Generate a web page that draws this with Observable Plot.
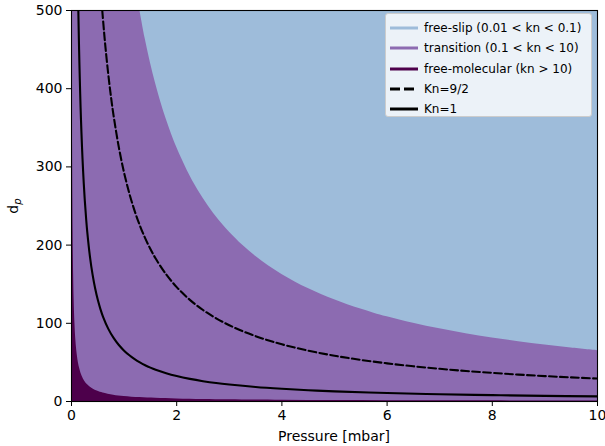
<!DOCTYPE html>
<html><head><meta charset="utf-8">
<script src="https://cdn.jsdelivr.net/npm/d3@7"></script>
<script src="https://cdn.jsdelivr.net/npm/@observablehq/plot@0.6"></script>
<style>
body{margin:0;background:#fff}
#wrap{position:relative;width:605px;height:446px;font-family:"DejaVu Sans",sans-serif}
#legend{position:absolute;left:385px;top:13px;width:207px;height:104px;background:rgba(255,255,255,0.8);border:1px solid #cccccc;border-radius:3px;box-sizing:border-box;font-size:12px;color:#000}
#legend .row{position:absolute;left:0;height:20px;display:flex;align-items:center;white-space:nowrap}
#legend svg{width:38px;height:20px;flex:none}
</style>
</head><body><div id="wrap"></div>
<script>
// Axis domains and ticks
const pressureDomain = [0, 10];
const dpDomain = [0, 500];
const xTicks = [0, 2, 4, 6, 8, 10];
const yTicks = [0, 100, 200, 300, 400, 500];

// Boundary kn = 10 (top of free-molecular region)
const molecularP = [0.013, 0.015, 0.02, 0.025, 0.03, 0.04, 0.05, 0.065, 0.08, 0.1, 0.13, 0.16, 0.2, 0.25, 0.3, 0.4, 0.5, 0.6, 0.8, 1, 1.3, 1.6, 2, 2.5, 3, 4, 5, 6, 7, 8, 9, 10];
const molecularD = [500, 433, 325, 260, 217, 163, 130, 100, 81, 65, 50, 41, 32.5, 26, 21.7, 16.3, 13, 10.8, 8.1, 6.5, 5, 4.1, 3.3, 2.6, 2.2, 1.6, 1.3, 1.1, 0.93, 0.81, 0.72, 0.65];

// Boundary kn = 0.1 (bottom of free-slip region)
const slipP = [1.3, 1.4, 1.5, 1.6, 1.7, 1.8, 1.9, 2, 2.2, 2.4, 2.6, 2.8, 3, 3.25, 3.5, 3.75, 4, 4.25, 4.5, 4.75, 5, 5.25, 5.5, 5.75, 6, 6.5, 7, 7.5, 8, 8.5, 9, 9.5, 10];
const slipD = [500, 464.3, 433.3, 406.3, 382.4, 361.1, 342.1, 325, 295.5, 270.8, 250, 232.1, 216.7, 200, 185.7, 173.3, 162.5, 152.9, 144.4, 136.8, 130, 123.8, 118.2, 113, 108.3, 100, 92.9, 86.7, 81.3, 76.5, 72.2, 68.4, 65];

// Kn = 1 curve (solid)
const kn1P = [0.13, 0.14, 0.15, 0.165, 0.18, 0.2, 0.22, 0.25, 0.28, 0.3, 0.35, 0.4, 0.45, 0.5, 0.55, 0.6, 0.7, 0.8, 0.9, 1, 1.1, 1.2, 1.3, 1.4, 1.5, 1.6, 1.8, 2, 2.25, 2.5, 2.75, 3, 3.5, 4, 4.5, 5, 6, 7, 8, 9, 10];
const kn1D = [500, 464.3, 433.3, 393.9, 361.1, 325, 295.5, 260, 232.1, 216.7, 185.7, 162.5, 144.4, 130, 118.2, 108.3, 92.9, 81.3, 72.2, 65, 59.1, 54.2, 50, 46.4, 43.3, 40.6, 36.1, 32.5, 28.9, 26, 23.6, 21.7, 18.6, 16.3, 14.4, 13, 10.8, 9.3, 8.1, 7.2, 6.5];

// Kn = 9/2 curve (dashed)
const kn45P = [0.585, 0.62, 0.65, 0.7, 0.75, 0.8, 0.9, 1, 1.1, 1.2, 1.3, 1.4, 1.5, 1.6, 1.8, 2, 2.25, 2.5, 2.75, 3, 3.25, 3.5, 3.75, 4, 4.5, 5, 5.5, 6, 6.5, 7, 7.5, 8, 8.5, 9, 9.5, 10];
const kn45D = [500, 471.8, 450, 417.9, 390, 365.6, 325, 292.5, 265.9, 243.8, 225, 208.9, 195, 182.8, 162.5, 146.3, 130, 117, 106.4, 97.5, 90, 83.6, 78, 73.1, 65, 58.5, 53.2, 48.8, 45, 41.8, 39, 36.6, 34.4, 32.5, 30.8, 29.3];

// Legend
const legendLabels = ["free-slip (0.01 < kn < 0.1)", "transition (0.1 < kn < 10)", "free-molecular (kn > 10)", "Kn=9/2", "Kn=1"];
const legendColors = ["#9ebcda", "#8c6bb1", "#4d004b", "#000000", "#000000"];
const legendDash = [null, null, null, "10,4", null];

const colSlip = "#9ebcda", colTrans = "#8c6bb1", colMol = "#4d004b";

const zip = (xs, ys) => xs.map((x, i) => ({x, y: ys[i]}));
const molecular = zip(molecularP, molecularD);
const slip = zip(slipP, slipD);
const kn1 = zip(kn1P, kn1D);
const kn45 = zip(kn45P, kn45D);
const base = pressureDomain.map(x => ({x}));

const chart = Plot.plot({
  width: 605, height: 446,
  marginLeft: 71, marginRight: 8, marginTop: 10, marginBottom: 45,
  style: {fontFamily: "DejaVu Sans, sans-serif", fontSize: "14px", color: "#000", background: "#fff"},
  x: {domain: pressureDomain, ticks: xTicks, tickSize: 5, tickPadding: 4, label: null},
  y: {domain: dpDomain, ticks: yTicks, tickSize: 5, tickPadding: 4, label: null},
  marks: [
    Plot.areaY(base, {x: "x", y1: dpDomain[0], y2: dpDomain[1], fill: colTrans}),
    Plot.areaY(slip, {x: "x", y1: "y", y2: dpDomain[1], fill: colSlip, curve: "catmull-rom", clip: true}),
    Plot.areaY(molecular, {x: "x", y1: dpDomain[0], y2: "y", fill: colMol, curve: "catmull-rom", clip: true}),
    Plot.line(kn45, {x: "x", y: "y", stroke: "#000", strokeWidth: 2.1, strokeDasharray: "7.7,3.3", curve: "catmull-rom", clip: true}),
    Plot.line(kn1, {x: "x", y: "y", stroke: "#000", strokeWidth: 2.1, curve: "catmull-rom", clip: true}),
    Plot.frame({stroke: "#000", strokeWidth: 1.1}),
    Plot.axisX({ticks: xTicks, tickSize: 5, tickPadding: 4, fontSize: 14, label: null}),
    Plot.axisY({ticks: yTicks, tickSize: 5, tickPadding: 4, fontSize: 14, label: null})
  ]
});

const wrap = document.getElementById("wrap");
wrap.appendChild(chart);

const svg = d3.select(chart);
// x label
svg.append("text")
  .attr("x", 71 + (605 - 71 - 8) / 2).attr("y", 441)
  .attr("text-anchor", "middle").attr("font-size", 14).attr("fill", "#000")
  .attr("font-family", "DejaVu Sans, sans-serif")
  .text("Pressure [mbar]");
// y label d_p
const yl = svg.append("text")
  .attr("transform", "translate(18,206) rotate(-90)")
  .attr("text-anchor", "middle").attr("font-size", 14).attr("fill", "#000")
  .attr("font-family", "DejaVu Sans, sans-serif");
yl.append("tspan").text("d");
yl.append("tspan").attr("font-size", 10).attr("font-style", "italic").attr("dy", 3).text("p");

// Legend
const legend = document.createElement("div");
legend.id = "legend";
legendLabels.forEach((label, i) => {
  const row = document.createElement("div");
  row.className = "row";
  row.style.top = (4 + i * 20.3) + "px";
  const dash = legendDash[i] ? `stroke-dasharray="${legendDash[i]}"` : "";
  row.innerHTML = `<svg><line x1="4" x2="32" y1="10" y2="10" stroke="${legendColors[i]}" stroke-width="3" ${dash}/></svg><span>${label.replace(/</g, "&lt;").replace(/>/g, "&gt;")}</span>`;
  legend.appendChild(row);
});
wrap.appendChild(legend);
</script>
</body></html>
